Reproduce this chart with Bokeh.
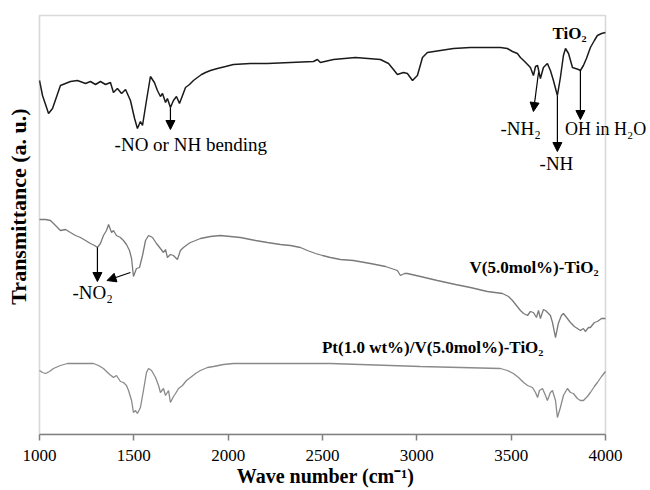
import math
from bokeh.plotting import figure
from bokeh.models import Range1d, Label, Arrow, NormalHead, FixedTicker, BoxAnnotation
from bokeh.embed import file_html
from bokeh.resources import INLINE

# ---- data (wavenumber cm^-1, transmittance a.u.) ----
tio2_wn = [1000, 1016, 1048, 1069, 1111, 1164, 1201, 1244, 1270, 1297, 1323, 1350, 1376, 1392, 1413, 1435,
           1456, 1482, 1504, 1519, 1535, 1546, 1567, 1588, 1609, 1625, 1641, 1652, 1668, 1678, 1694, 1710,
           1726, 1742, 1758, 1774, 1795, 1816, 1837, 1859, 1880, 1906, 1943, 1986, 2028, 2118, 2208, 2330,
           2452, 2473, 2489, 2558, 2675, 2807, 2850, 2876, 2897, 2929, 2950, 2977, 3003, 3030, 3056, 3125,
           3194, 3284, 3353, 3443, 3480, 3507, 3533, 3549, 3566, 3587, 3602, 3618, 3629, 3640, 3655, 3671,
           3692, 3708, 3724, 3745, 3761, 3777, 3788, 3804, 3825, 3841, 3857, 3867, 3883, 3899, 3920, 3941,
           3957, 3979, 4000]
tio2_t = [354, 339, 321, 326, 349, 353, 354, 351, 353, 350, 353, 350, 352, 342, 346, 341,
          345, 334, 316, 306, 313, 309, 334, 358, 352, 344, 338, 341, 332, 336, 327, 334,
          338, 331, 339, 347, 350, 354, 357, 360, 362, 364, 366, 368, 370, 371, 371, 372,
          373, 375, 372, 375, 377, 375, 371, 365, 360, 362, 361, 354, 359, 377, 382, 384,
          386, 387, 387, 387, 386, 383, 381, 377, 374, 370, 367, 359, 368, 369, 356, 367,
          371, 364, 354, 339, 357, 379, 386, 381, 367, 366, 365, 364, 369, 376, 387, 394,
          399, 401, 402]

v_wn = [1000, 1032, 1058, 1085, 1111, 1138, 1164, 1191, 1217, 1244, 1270, 1292, 1307, 1323, 1339, 1355,
        1366, 1382, 1392, 1408, 1429, 1445, 1461, 1477, 1488, 1498, 1514, 1530, 1546, 1562, 1578, 1599,
        1620, 1641, 1657, 1668, 1678, 1694, 1710, 1731, 1747, 1763, 1784, 1800, 1827, 1853, 1906, 1959,
        2012, 2065, 2145, 2208, 2277, 2330, 2383, 2420, 2463, 2500, 2542, 2595, 2664, 2754, 2834, 2897,
        2913, 2935, 2950, 3019, 3109, 3205, 3284, 3374, 3454, 3486, 3507, 3528, 3549, 3566, 3587, 3602,
        3618, 3634, 3645, 3655, 3671, 3682, 3698, 3708, 3719, 3735, 3750, 3766, 3777, 3798, 3814, 3835,
        3851, 3867, 3883, 3893, 3910, 3920, 3941, 3957, 3979, 4000]
v_t = [215, 215, 214, 209, 204, 205, 202, 199, 197, 194, 191, 189, 187, 191, 199, 204,
       210, 202, 204, 199, 197, 194, 190, 184, 176, 158, 166, 167, 179, 194, 199, 197,
       191, 186, 182, 185, 177, 180, 179, 175, 184, 187, 190, 192, 194, 196, 198, 199,
       198, 197, 194, 192, 190, 189, 187, 184, 181, 179, 177, 175, 174, 171, 168, 164,
       159, 161, 161, 158, 154, 150, 147, 143, 141, 138, 134, 129, 124, 121, 119, 123,
       122, 117, 124, 116, 125, 124, 121, 119, 112, 97, 111, 119, 121, 116, 112, 108,
       106, 104, 106, 103, 107, 107, 112, 113, 116, 116]

pt_wn = [1000, 1016, 1032, 1053, 1074, 1111, 1148, 1217, 1286, 1313, 1339, 1366, 1392, 1408, 1429, 1445,
         1461, 1472, 1488, 1498, 1509, 1519, 1535, 1551, 1567, 1578, 1594, 1615, 1631, 1641, 1657, 1668,
         1684, 1694, 1710, 1721, 1737, 1758, 1779, 1800, 1827, 1853, 1890, 1922, 1975, 2028, 2171, 2383,
         2542, 2701, 2860, 3019, 3231, 3443, 3480, 3512, 3539, 3566, 3587, 3613, 3629, 3640, 3650, 3666,
         3682, 3692, 3708, 3719, 3735, 3745, 3761, 3777, 3798, 3814, 3830, 3851, 3867, 3883, 3904, 3920,
         3941, 3957, 3979, 4000]
pt_t = [64, 62, 61, 63, 66, 69, 71, 71, 71, 69, 66, 61, 57, 59, 53, 52,
        49, 44, 34, 22, 24, 21, 27, 44, 62, 66, 64, 57, 49, 42, 46, 39,
        44, 32, 38, 41, 46, 49, 54, 57, 61, 64, 67, 68, 70, 71, 71, 71,
        71, 70, 69, 68, 67, 66, 64, 61, 57, 52, 49, 47, 42, 37, 44, 46,
        39, 34, 42, 44, 34, 17, 27, 39, 46, 42, 41, 36, 34, 34, 38, 42,
        48, 52, 58, 63]

x_ticks = [1000, 1500, 2000, 2500, 3000, 3500, 4000]
x_min, x_max = 1000, 4000
y_top = 419

SERIF = "Liberation Serif"
GRAY = "#808080"

# plot box occupies x 39..605 px of a 650 px canvas; extend range so labels outside the box are not clipped
px_per_unit = 566 / (x_max - x_min)
x_lo = x_min - 39 / px_per_unit
x_hi = x_max + 45 / px_per_unit

p = figure(width=650, height=490, output_backend="svg", toolbar_location=None,
           x_range=Range1d(x_lo, x_hi), y_range=Range1d(0, 434), y_axis_location=None,
           min_border_left=0, min_border_right=0, min_border_top=0, min_border_bottom=56)
p.background_fill_color = "white"
p.border_fill_color = "white"
p.outline_line_color = None
p.xgrid.visible = False
p.ygrid.visible = False

p.add_layout(BoxAnnotation(left=x_min, right=x_max, bottom=0, top=y_top, fill_alpha=0,
                           line_color=GRAY, line_width=1.6))

p.line(tio2_wn, tio2_t, line_color="#1a1a1a", line_width=1.5)
p.line(v_wn, v_t, line_color="#7a7a7a", line_width=1.3)
p.line(pt_wn, pt_t, line_color="#8a8a8a", line_width=1.3)

xa = p.xaxis[0]
xa.bounds = (x_min, x_max)
xa.ticker = FixedTicker(ticks=x_ticks)
xa.axis_line_color = GRAY
xa.axis_line_width = 1.6
xa.major_tick_line_color = GRAY
xa.major_tick_line_width = 1.5
xa.major_tick_out = 6
xa.major_tick_in = 0
xa.minor_tick_line_color = None
xa.major_label_text_font = SERIF
xa.major_label_text_font_size = "17px"
xa.major_label_text_color = "black"
xa.major_label_standoff = 9
xa.axis_label = "Wave number (cm⁻¹)"
xa.axis_label_text_font = SERIF
xa.axis_label_text_font_style = "bold"
xa.axis_label_text_font_size = "20px"
xa.axis_label_text_color = "black"
xa.axis_label_standoff = 1


def arrow(x0, y0, x1, y1):
    p.add_layout(Arrow(x_start=x0, y_start=y0, x_end=x1, y_end=y1, line_color="black", line_width=1.2,
                       end=NormalHead(size=9, fill_color="black", line_color="black")))


def label(x, y, text, size="19px", bold=False, align="left"):
    p.add_layout(Label(x=x, y=y, text=text, text_font=SERIF, text_font_size=size,
                       text_font_style="bold" if bold else "normal", text_align=align,
                       text_baseline="middle", text_color="black"))


# y-axis title
p.add_layout(Label(x=18, x_units="screen", y=228, text="Transmittance (a. u.)", angle=math.pi / 2,
                   text_font=SERIF, text_font_size="22px", text_font_style="bold",
                   text_align="center", text_baseline="middle", text_color="black"))

# annotations
arrow(1694, 327, 1694, 305)
label(1398, 290, "-NO or NH bending")
label(3719, 401, "TiO₂", size="17px", bold=True)
arrow(3645, 362, 3618, 323)
label(3443, 306, "-NH₂")
arrow(3745, 339, 3745, 283)
label(3740, 271, "-NH", align="center")
arrow(3867, 364, 3867, 315)
label(3785, 306, "OH in H₂O", size="18px")
arrow(1307, 187, 1307, 153)
arrow(1482, 162, 1358, 154)
label(1175, 142, "-NO₂")
label(3963, 167, "V(5.0mol%)-TiO₂", size="17px", bold=True, align="right")
label(3671, 87, "Pt(1.0 wt%)/V(5.0mol%)-TiO₂", size="17px", bold=True, align="right")

open("out.html", "w").write(file_html(p, INLINE))
